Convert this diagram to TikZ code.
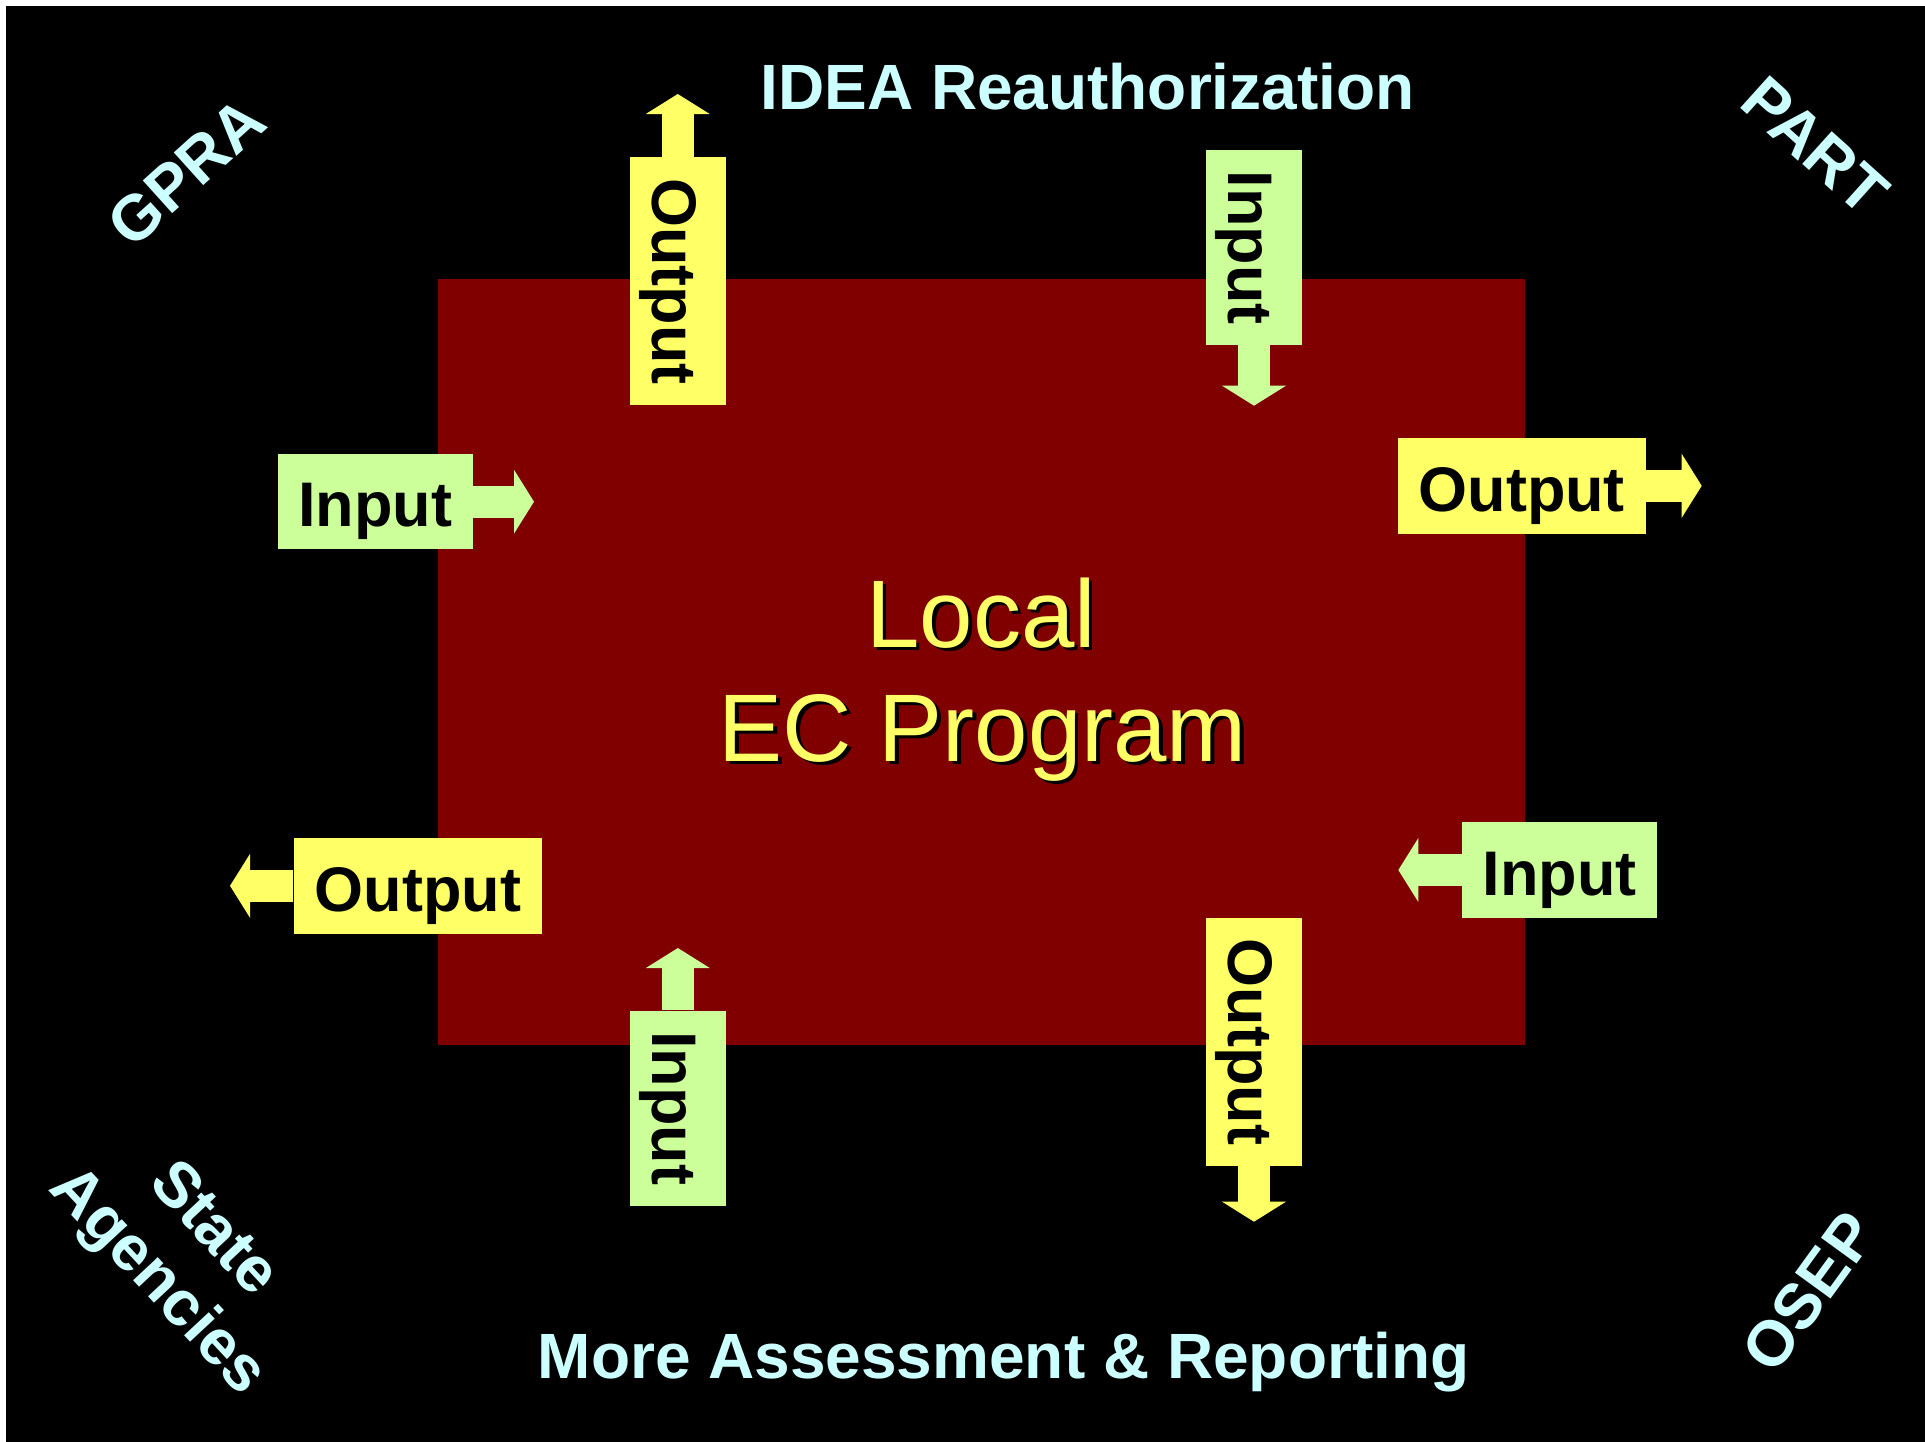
\documentclass[tikz,border=0pt]{standalone}
\usepackage{fontspec}
\setmainfont{Liberation Sans}
\usetikzlibrary{arrows.meta}
\definecolor{bgred}{HTML}{800000}
\definecolor{boxyel}{HTML}{FFFF66}
\definecolor{boxgrn}{HTML}{CCFF99}
\definecolor{txtcyan}{HTML}{CCFFFF}
\begin{document}
\begin{tikzpicture}[x=0.5pt,y=-0.5pt,
  lbl/.style={inner sep=0pt, font=\fontsize{31.5}{38}\selectfont\bfseries, text=black, text height=30.6pt, text depth=5.4pt},
  inbox/.style={lbl, fill=boxgrn, minimum width=97.5pt, minimum height=47.75pt},
  outbox/.style={lbl, fill=boxyel, minimum width=124pt, minimum height=47.75pt},
  fatg/.style={draw=boxgrn, line width=16pt, -{Triangle[width=31.5pt,length=10pt]}},
  fato/.style={draw=boxyel, line width=16pt, -{Triangle[width=31.5pt,length=10pt]}},
  ctext/.style={inner sep=0pt, anchor=base, font=\fontsize{48}{57}\selectfont},
  cyantxt/.style={inner sep=0pt, text=txtcyan, font=\fontsize{32}{38}\selectfont\bfseries},
  cornertxt/.style={inner sep=0pt, text=txtcyan, font=\fontsize{32}{38}\selectfont\bfseries, align=center}]
\useasboundingbox (0,0) rectangle (1925,1441);
\fill[white] (0,0) rectangle (1925,1441);
\fill[black] (6,6) rectangle (1945,1461);
\fill[bgred] (438.3,278.7) rectangle (1524.8,1044.8);

% centre text with shadow
\node[ctext, text=black] (locs) at (984.5,650.5) {Local};
\node[ctext, text=black] (ecs) at (986.5,764.5) {EC Program};
\node[ctext, text=boxyel] (loc) at (981,647) {Local};
\node[ctext, text=boxyel] (ec) at (983,761) {EC Program};

% horizontal boxes
\node[inbox] (in1) at (375.3,501.7) {Input};
\coordinate (in1t) at (534,501.7);
\draw[fatg] (in1.east) -- (in1t);

\node[outbox] (out2) at (1521.7,485.8) {Output};
\coordinate (out2t) at (1701.7,485.8);
\draw[fato] (out2.east) -- (out2t);

\node[outbox] (out3) at (417.85,885.8) {Output};
\coordinate (out3t) at (230,885.8);
\draw[fato] (out3.west) -- (out3t);

\node[inbox] (in4) at (1559.5,870) {Input};
\coordinate (in4t) at (1398.3,870);
\draw[fatg] (in4.west) -- (in4t);

% vertical boxes
\node[outbox, rotate=-90] (out1) at (677.75,281.35) {Output};
\coordinate (out1t) at (677.75,94);
\draw[fato] (out1.west) -- (out1t);

\node[inbox, rotate=-90] (in2) at (1254,247.5) {Input};
\coordinate (in2t) at (1254,405.7);
\draw[fatg] (in2.east) -- (in2t);

\node[inbox, rotate=-90] (in3) at (677.85,1108.35) {Input};
\coordinate (in3t) at (677.85,948);
\draw[fatg] (in3.west) -- (in3t);

\node[outbox, rotate=-90] (out4) at (1254,1042) {Output};
\coordinate (out4t) at (1254,1221.7);
\draw[fato] (out4.east) -- (out4t);

% surrounding labels
\node[cyantxt, anchor=base] (idea) at (1087.5,109) {IDEA Reauthorization};
\node[cyantxt, anchor=base] (more) at (1003.6,1378) {More Assessment \& Reporting};
\node[cornertxt, rotate=42] (gpra) at (186,172) {GPRA};
\node[cornertxt, rotate=-42] (part) at (1815,146) {PART};
\node[cornertxt, rotate=54] (osep) at (1809,1292) {OSEP};
\node[cornertxt, rotate=-47] (state) at (184,1257) {State\\Agencies};
\end{tikzpicture}
\end{document}
